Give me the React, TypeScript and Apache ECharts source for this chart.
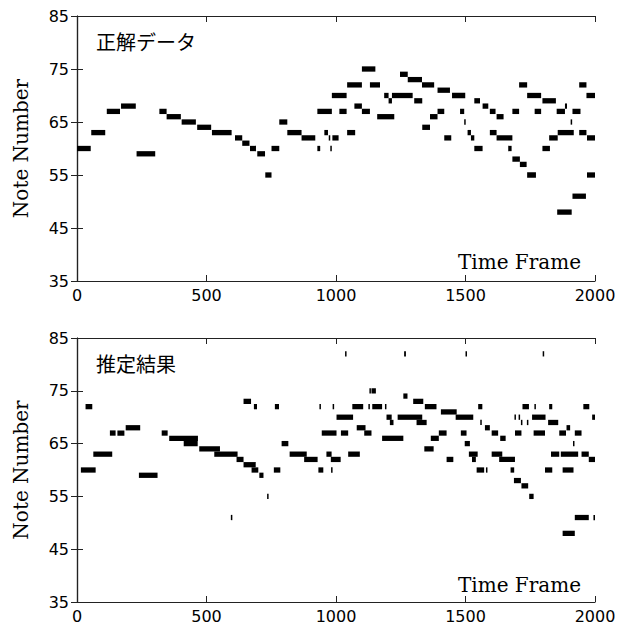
import React, { useEffect, useRef } from "react";
import * as echarts from "echarts";

// [startFrame, endFrame, noteNumber]
const groundTruth: number[][] = [
  [0, 53, 60], [55, 109, 63], [115, 166, 67], [170, 227, 68], [230, 302, 59],
  [318, 346, 67], [346, 401, 66], [404, 459, 65], [464, 518, 64], [521, 597, 63],
  [610, 638, 62], [638, 666, 61], [668, 691, 60], [696, 726, 59], [727, 751, 55],
  [751, 781, 60], [781, 812, 65], [812, 867, 63], [867, 920, 62], [928, 939, 60],
  [928, 984, 67], [955, 969, 63], [972, 976, 62], [978, 982, 60], [986, 1010, 62],
  [984, 1041, 70], [1013, 1041, 67], [1043, 1100, 72], [1043, 1074, 63], [1071, 1100, 68],
  [1100, 1131, 67], [1100, 1152, 75], [1131, 1170, 72], [1159, 1225, 66], [1186, 1203, 70],
  [1203, 1216, 69], [1216, 1296, 70], [1247, 1277, 74], [1277, 1332, 73], [1302, 1333, 69],
  [1332, 1379, 72], [1333, 1363, 64], [1363, 1392, 66], [1392, 1418, 67], [1392, 1440, 71],
  [1418, 1445, 62], [1448, 1499, 70], [1479, 1495, 67], [1495, 1500, 65], [1508, 1521, 63],
  [1521, 1534, 62], [1534, 1556, 69], [1534, 1566, 60], [1566, 1588, 68], [1594, 1616, 67],
  [1594, 1620, 63], [1620, 1647, 66], [1620, 1681, 62], [1665, 1678, 60], [1681, 1707, 67],
  [1681, 1710, 58], [1707, 1738, 72], [1710, 1736, 57], [1738, 1772, 55], [1738, 1792, 70],
  [1767, 1792, 67], [1797, 1849, 69], [1797, 1826, 60], [1823, 1856, 62], [1852, 1884, 67],
  [1854, 1910, 48], [1856, 1918, 63], [1884, 1892, 68], [1906, 1910, 65], [1913, 1944, 67],
  [1913, 1965, 51], [1939, 1967, 72], [1939, 1967, 63], [1967, 2000, 70], [1969, 2000, 62],
  [1969, 2000, 55],
];

const estimated: number[][] = [
  [15, 72, 60], [33, 59, 72], [63, 136, 63], [127, 149, 67], [156, 183, 67],
  [188, 244, 68], [239, 311, 59], [327, 350, 67], [356, 467, 66], [412, 466, 65],
  [472, 552, 64], [530, 620, 63], [594, 597, 51], [616, 643, 62], [643, 690, 61],
  [643, 672, 73], [674, 700, 60], [683, 695, 72], [704, 720, 59], [734, 738, 55],
  [760, 785, 60], [764, 780, 72], [790, 816, 65], [821, 887, 63], [877, 929, 62],
  [932, 951, 60], [936, 940, 72], [945, 1002, 67], [963, 983, 63], [980, 1018, 62],
  [981, 985, 60], [987, 991, 72], [1002, 1066, 70], [1019, 1047, 67], [1035, 1039, 82],
  [1047, 1092, 63], [1063, 1105, 72], [1080, 1114, 68], [1109, 1137, 67], [1125, 1129, 72],
  [1129, 1133, 75], [1137, 1154, 75], [1140, 1178, 72], [1178, 1260, 66], [1189, 1193, 72],
  [1195, 1215, 70], [1208, 1222, 69], [1238, 1333, 70], [1260, 1276, 74], [1263, 1270, 82],
  [1298, 1337, 73], [1311, 1350, 69], [1341, 1377, 64], [1343, 1388, 72], [1366, 1397, 66],
  [1397, 1427, 67], [1405, 1466, 71], [1427, 1453, 62], [1462, 1530, 70], [1482, 1504, 67],
  [1497, 1517, 65], [1500, 1504, 82], [1513, 1547, 63], [1525, 1540, 62], [1543, 1572, 60],
  [1579, 1583, 60], [1549, 1565, 72], [1557, 1561, 69], [1575, 1594, 68], [1601, 1626, 67],
  [1601, 1642, 63], [1630, 1691, 62], [1634, 1655, 66], [1674, 1688, 60], [1687, 1714, 58],
  [1689, 1693, 70], [1691, 1716, 67], [1705, 1709, 70], [1714, 1718, 69], [1716, 1742, 57],
  [1720, 1745, 72], [1737, 1741, 69], [1746, 1763, 55], [1757, 1809, 70], [1763, 1807, 67],
  [1766, 1770, 72], [1798, 1802, 82], [1807, 1835, 60], [1819, 1858, 69], [1823, 1835, 72],
  [1830, 1862, 63], [1862, 1888, 67], [1868, 1935, 63], [1875, 1917, 60], [1875, 1922, 48],
  [1890, 1904, 68], [1915, 1919, 65], [1922, 1948, 67], [1922, 1976, 51], [1948, 1976, 63],
  [1955, 1978, 72], [1976, 2000, 62], [1989, 2000, 70], [1994, 2000, 51],
];

const panelTitles = ["正解データ", "推定結果"];
const xAxisName = "Time Frame";
const yAxisName = "Note Number";
const xRange = [0, 2000, 500];
const yRange = [35, 85, 10];

export default function App() {
  const ref = useRef<HTMLDivElement>(null);
  useEffect(() => {
    if (!ref.current) return;
    const chart = echarts.init(ref.current, undefined, { renderer: "svg" });
    const grids = [
      { left: 77, top: 16, width: 518, height: 265 },
      { left: 77, top: 338, width: 518, height: 266 },
    ];
    const line = { show: true, lineStyle: { color: "#222", width: 1.2 } };
    const tick = { show: true, inside: true, length: 6, lineStyle: { color: "#222", width: 1 } };
    const labelStyle = { color: "#000", fontSize: 16, fontFamily: "DejaVu Sans" };
    const plain = (v: number) => String(v);
    const xAxes: any[] = [];
    const yAxes: any[] = [];
    grids.forEach((_, gi) => {
      xAxes.push({
        type: "value", gridIndex: gi, position: "bottom",
        min: xRange[0], max: xRange[1], interval: xRange[2],
        axisLine: line, axisTick: tick, splitLine: { show: false },
        axisLabel: { ...labelStyle, margin: 6, formatter: plain },
      });
      xAxes.push({
        type: "value", gridIndex: gi, position: "top",
        min: xRange[0], max: xRange[1], interval: xRange[2],
        axisLine: line, axisTick: tick, splitLine: { show: false },
        axisLabel: { show: false },
      });
      yAxes.push({
        type: "value", gridIndex: gi, position: "left",
        min: yRange[0], max: yRange[1], interval: yRange[2],
        axisLine: line, axisTick: tick, splitLine: { show: false },
        axisLabel: { ...labelStyle, margin: 8, formatter: plain },
        name: yAxisName, nameLocation: "middle", nameGap: 46, nameRotate: 90,
        nameTextStyle: { color: "#000", fontSize: 20, fontFamily: "DejaVu Serif" },
      });
      yAxes.push({
        type: "value", gridIndex: gi, position: "right",
        min: yRange[0], max: yRange[1], interval: yRange[2],
        axisLine: line, axisTick: tick, splitLine: { show: false },
        axisLabel: { show: false },
      });
    });
    const renderItem = (params: any, api: any) => {
      const s = api.coord([api.value(0), api.value(2) + 0.5]);
      const e = api.coord([api.value(1), api.value(2) - 0.5]);
      const w = Math.max(e[0] - s[0], 1.5);
      return {
        type: "rect",
        shape: { x: s[0], y: s[1], width: w, height: e[1] - s[1] },
        style: { fill: "#000" },
      };
    };
    const datasets = [groundTruth, estimated];
    const series = datasets.map((d, gi) => ({
      type: "custom",
      xAxisIndex: gi * 2,
      yAxisIndex: gi * 2,
      renderItem,
      clip: true,
      encode: { x: [0, 1], y: 2 },
      data: d,
    }));
    const graphic: any[] = [];
    grids.forEach((g, gi) => {
      graphic.push({
        type: "text", left: 96, top: g.top + 15,
        style: { text: panelTitles[gi], fill: "#000", font: '20px "Noto Sans CJK JP"' },
      });
      graphic.push({
        type: "text", x: 581, y: g.top + g.height - 9,
        style: { text: xAxisName, fill: "#000", font: '20px "DejaVu Serif"', textAlign: "right", textVerticalAlign: "bottom" },
      });
    });
    chart.setOption({
      animation: false,
      grid: grids,
      xAxis: xAxes,
      yAxis: yAxes,
      series,
      graphic,
    });
    return () => chart.dispose();
  }, []);
  return (
    <div
      ref={ref}
      style={{ position: "fixed", left: 0, top: 0, width: 628, height: 624, background: "#fff" }}
    />
  );
}
